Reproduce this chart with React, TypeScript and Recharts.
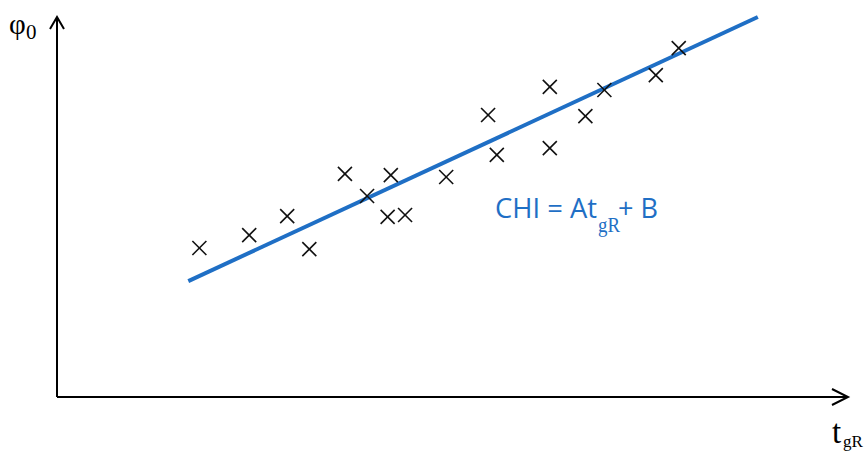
import {
  ScatterChart,
  Scatter,
  XAxis,
  YAxis,
  ReferenceDot,
  ReferenceLine,
} from "recharts";

// measured points (t_gR, phi0)
const tValues = [18.0, 24.3, 29.1, 31.9, 36.4, 39.2, 42.2, 41.8, 44.0, 49.2, 54.5, 55.6, 62.3, 62.3, 66.8, 69.2, 75.7, 78.6];
const phiValues = [39.2, 42.6, 47.6, 38.9, 58.7, 52.9, 58.4, 47.4, 47.9, 57.9, 74.2, 63.7, 81.6, 65.5, 73.9, 80.8, 84.7, 91.8];

// fitted line CHI = A*t + B
const fitT = [16.6, 88.6];
const fitPhi = [30.5, 100];

const points = tValues.map((t, i) => ({ t, phi: phiValues[i] }));
const fitLine = fitT.map((t, i) => ({ t, phi: fitPhi[i] }));

const BLUE = "#1f6fc5";

const Cross = (props: any) => {
  const { cx, cy } = props;
  const s = 7;
  return (
    <g stroke="#111" strokeWidth={1.6}>
      <line x1={cx - s} y1={cy - s} x2={cx + s} y2={cy + s} />
      <line x1={cx - s} y1={cy + s} x2={cx + s} y2={cy - s} />
    </g>
  );
};

const ArrowRight = (props: any) => {
  const { cx, cy } = props;
  return (
    <polyline
      points={`${cx - 16},${cy - 8} ${cx},${cy} ${cx - 16},${cy + 8}`}
      fill="none"
      stroke="#000"
      strokeWidth={2}
    />
  );
};

const ArrowUp = (props: any) => {
  const { cx, cy } = props;
  return (
    <polyline
      points={`${cx - 7},${cy + 12} ${cx},${cy} ${cx + 7},${cy + 12}`}
      fill="none"
      stroke="#000"
      strokeWidth={2}
    />
  );
};

export default function App() {
  return (
    <div style={{ position: "absolute", left: 0, top: 0, width: 867, height: 452, background: "#fff" }}>
      <ScatterChart
        width={867}
        height={452}
        margin={{ top: 17, right: 19, left: 57, bottom: 55 }}
      >
        <XAxis
          type="number"
          dataKey="t"
          domain={[0, 100]}
          tick={false}
          height={0}
          axisLine={false}
          tickLine={false}
        />
        <YAxis
          type="number"
          dataKey="phi"
          domain={[0, 100]}
          tick={false}
          width={0}
          axisLine={false}
          tickLine={false}
        />
        <ReferenceLine y={0} stroke="#000" strokeWidth={2} ifOverflow="visible" />
        <ReferenceLine x={0} stroke="#000" strokeWidth={2} ifOverflow="visible" />
        <Scatter
          data={fitLine}
          line={{ stroke: BLUE, strokeWidth: 4 }}
          shape={() => <g />}
          isAnimationActive={false}
        />
        <Scatter data={points} shape={Cross} isAnimationActive={false} />
        <ReferenceDot x={100} y={0} shape={ArrowRight} ifOverflow="visible" />
        <ReferenceDot x={0} y={100} shape={ArrowUp} ifOverflow="visible" />
      </ScatterChart>
      <svg
        width={867}
        height={452}
        style={{ position: "absolute", left: 0, top: 0, pointerEvents: "none" }}
      >
        <text x={9} y={34} fontFamily="Liberation Serif" fontSize={29} fill="#000">
          φ
        </text>
        <text x={26} y={39} fontFamily="Liberation Serif" fontSize={21} fill="#000">
          0
        </text>
        <text x={832} y={443} fontFamily="Liberation Serif" fontSize={33} fill="#000">
          t
        </text>
        <text x={843} y={447} fontFamily="Liberation Serif" fontSize={17} fill="#000">
          gR
        </text>
        <text
          x={495}
          y={218}
          fontFamily="Open Sans"
          fontSize={28}
          fill={BLUE}
          textLength={102}
          lengthAdjust="spacingAndGlyphs"
        >
          CHI = At
        </text>
        <text
          x={598}
          y={232}
          fontFamily="Liberation Serif"
          fontSize={20}
          fill={BLUE}
          textLength={22}
          lengthAdjust="spacingAndGlyphs"
        >
          gR
        </text>
        <text
          x={618}
          y={218}
          fontFamily="Open Sans"
          fontSize={28}
          fill={BLUE}
          textLength={40}
          lengthAdjust="spacingAndGlyphs"
        >
          + B
        </text>
      </svg>
    </div>
  );
}
